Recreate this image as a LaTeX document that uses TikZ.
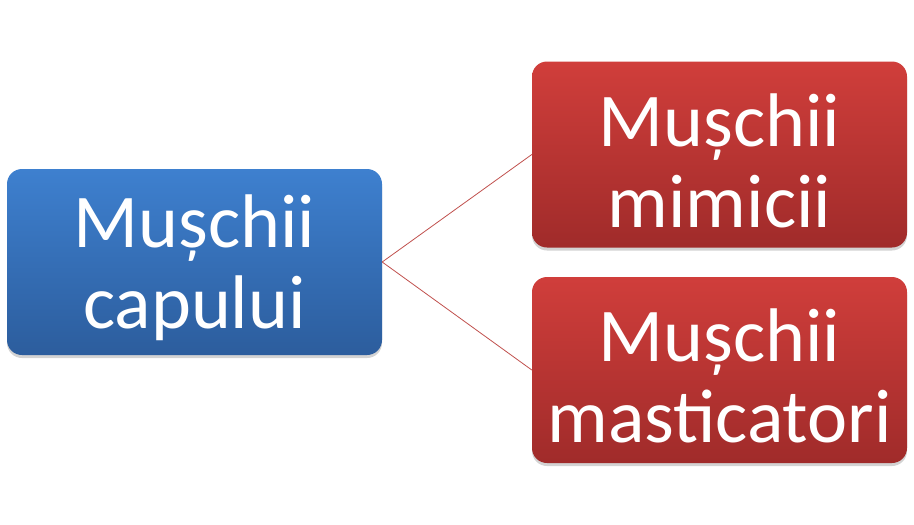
\documentclass[tikz,border=0pt]{standalone}
\usepackage{fontspec}
\setmainfont{Carlito}
\usetikzlibrary{shadows}
\definecolor{bluetop}{HTML}{3E80CF}
\definecolor{bluebot}{HTML}{2C5D9D}
\definecolor{redtop}{HTML}{D03E3B}
\definecolor{redbot}{HTML}{A02B2A}
\definecolor{linkred}{HTML}{C0504D}
\tikzset{
  boxbase/.style={rounded corners=15pt, minimum width=375pt, minimum height=186pt,
    inner sep=0pt,
    drop shadow={opacity=0.35, shadow xshift=0pt, shadow yshift=-3pt}},
  bluebox/.style={boxbase, top color=bluetop, bottom color=bluebot},
  redbox/.style={boxbase, top color=redtop, bottom color=redbot},
  boxtext/.style={inner sep=0pt, align=center, text=white,
    font=\fontsize{76}{81}\selectfont},
  link/.style={draw=linkred, line width=0.8pt}
}
\begin{document}
\begin{tikzpicture}[x=1pt,y=-1pt]
\useasboundingbox (0,0) rectangle (914,525);
\node[bluebox] (root) at (194.5,262) {};
\node[redbox] (mim) at (719.5,154.5) {};
\node[redbox] (mas) at (719.5,370) {};
\node[boxtext] (roottext) at ([yshift=-6pt]root.center) {Mușchii\\capului};
\node[boxtext] (mimtext) at ([yshift=-6pt]mim.center) {Mușchii\\mimicii};
\node[boxtext] (mastext) at ([yshift=-6pt]mas.center) {Mușchii\\masticatori};
\draw[link] (root.east) -- (mim.west);
\draw[link] (root.east) -- (mas.west);
\end{tikzpicture}
\end{document}
